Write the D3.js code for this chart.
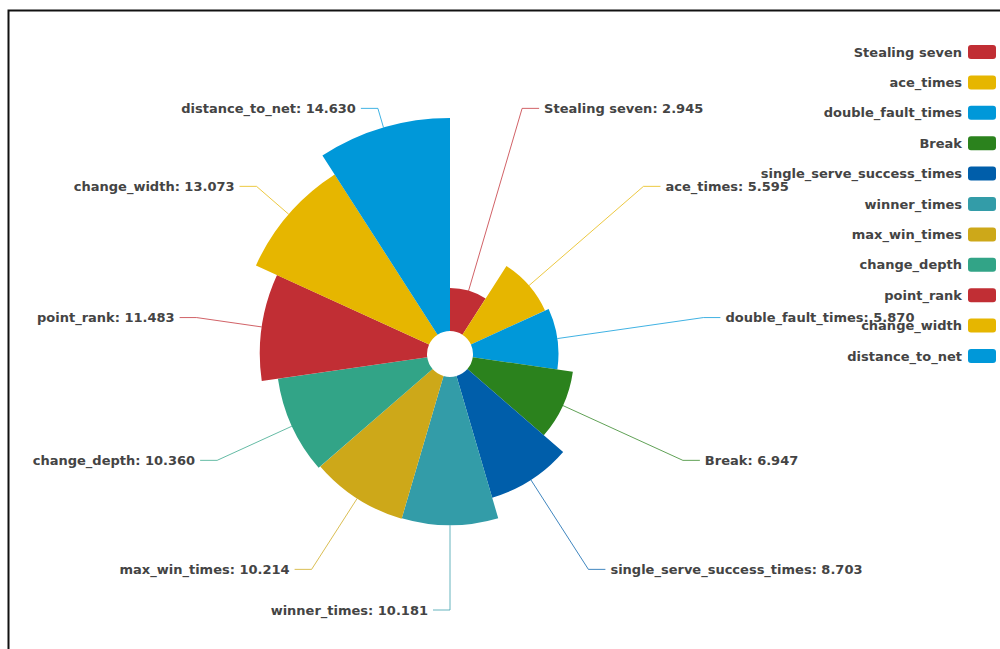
<!DOCTYPE html>
<html>
<head>
<meta charset="utf-8">
<script src="https://cdn.jsdelivr.net/npm/d3@7"></script>
<style>
  html, body { margin: 0; padding: 0; background: #fff; }
  svg { display: block; }
  text { font-family: "DejaVu Sans", "Noto Sans", sans-serif; }
</style>
</head>
<body>
<svg id="chart" width="1000" height="649"></svg>
<script>
// ---- data ----
const categories = ["Stealing seven", "ace_times", "double_fault_times", "Break",
  "single_serve_success_times", "winner_times", "max_win_times", "change_depth",
  "point_rank", "change_width", "distance_to_net"];
const values = [2.945, 5.595, 5.870, 6.947, 8.703, 10.181, 10.214, 10.360, 11.483, 13.073, 14.630];
const palette = ["#c12e34", "#e6b600", "#0098d9", "#2b821d", "#005eaa", "#339ca8", "#cda819", "#32a487"];

// ---- layout ----
const W = 1000, H = 649;
const cx = 450, cy = 354;
const r0 = 23, rMax = 236;
const labelRadius = rMax + 20;
const length2 = 17, textGap = 5;

const svg = d3.select("#chart");

// frame (only top and left edges visible in the picture)
svg.append("rect")
  .attr("x", 8.5).attr("y", 10.5)
  .attr("width", W + 20).attr("height", H + 20)
  .attr("fill", "none").attr("stroke", "#111").attr("stroke-width", 2);

const color = d3.scaleOrdinal().domain(categories).range(palette);
const rScale = d3.scaleLinear().domain([0, d3.max(values)]).range([r0, rMax]);

const data = categories.map((c, i) => ({ name: c, value: values[i] }));
const pie = d3.pie().value(() => 1).sort(null);
const arcs = pie(data);

const g = svg.append("g").attr("transform", `translate(${cx},${cy})`);

const arc = d3.arc().innerRadius(r0).outerRadius(d => rScale(d.data.value));

g.selectAll("path.slice")
  .data(arcs)
  .join("path")
  .attr("class", "slice")
  .attr("d", arc)
  .attr("fill", d => color(d.data.name));

const textStyle = sel => sel
  .attr("font-size", 13)
  .attr("font-weight", "bold")
  .attr("fill", "#444");

// labels
const fmt = d3.format(".3f");
arcs.forEach(d => {
  const mid = (d.startAngle + d.endAngle) / 2;
  const sx = Math.sin(mid), sy = -Math.cos(mid);
  const rOut = rScale(d.data.value);
  const p1 = [rOut * sx, rOut * sy];
  const p2 = [labelRadius * sx, labelRadius * sy];
  const right = mid < Math.PI - 1e-6;
  const dir = right ? 1 : -1;
  const p3 = [p2[0] + dir * length2, p2[1]];
  g.append("polyline")
    .attr("points", [p1, p2, p3].map(p => p.join(",")).join(" "))
    .attr("fill", "none")
    .attr("stroke", color(d.data.name))
    .attr("stroke-opacity", 0.75)
    .attr("stroke-width", 1);
  g.append("text")
    .attr("x", p3[0] + dir * textGap)
    .attr("y", p3[1])
    .attr("dy", "0.35em")
    .attr("text-anchor", right ? "start" : "end")
    .call(textStyle)
    .text(`${d.data.name}: ${fmt(d.data.value)}`);
});

// legend
const legendRight = 996, legendTop = 52, legendStep = 30.4;
const swW = 28, swH = 14;
const lg = svg.append("g");
categories.forEach((c, i) => {
  const y = legendTop + i * legendStep;
  lg.append("rect")
    .attr("x", legendRight - swW).attr("y", y - swH / 2)
    .attr("width", swW).attr("height", swH)
    .attr("rx", 3).attr("ry", 3)
    .attr("fill", color(c));
  lg.append("text")
    .attr("x", legendRight - swW - 6).attr("y", y)
    .attr("dy", "0.35em")
    .attr("text-anchor", "end")
    .call(textStyle)
    .text(c);
});
</script>
</body>
</html>
